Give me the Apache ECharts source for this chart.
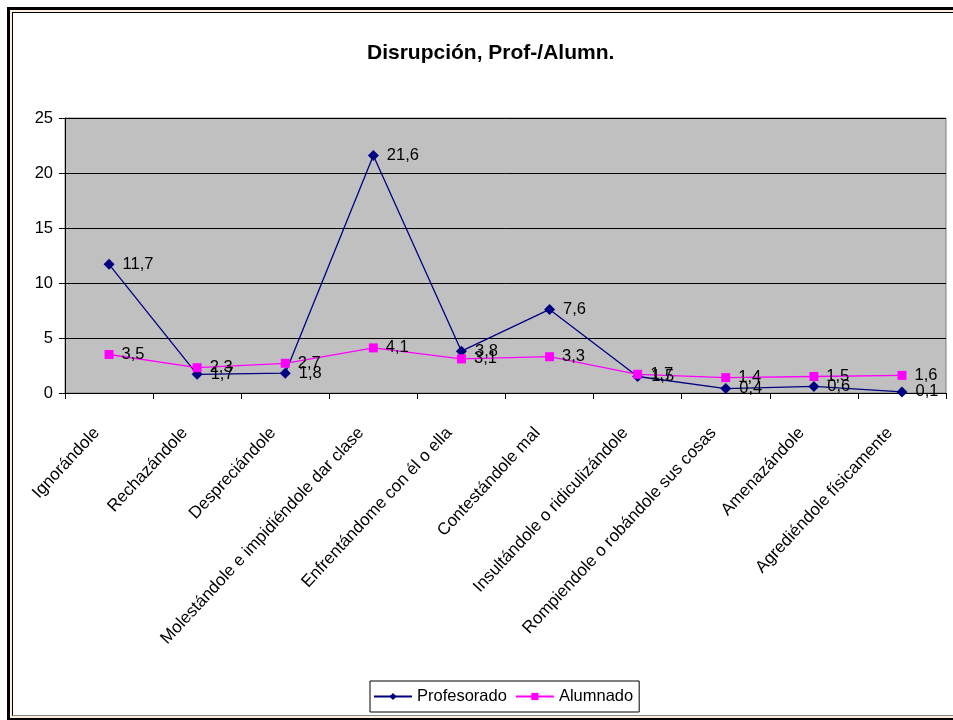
<!DOCTYPE html>
<html>
<head>
<meta charset="utf-8">
<script src="https://cdn.jsdelivr.net/npm/echarts@6/dist/echarts.min.js"></script>
<style>
	html, body { margin: 0; padding: 0; background: #fff; overflow: hidden; }
	#frame1 { position: absolute; left: 7px; top: 7px; width: 980px; height: 708px; border: 3px solid #000; border-right: none; }
	#frame2 { position: absolute; left: 0; top: 0; right: 0; bottom: 0; border: 2px solid #fbeedb; border-right: none; }
	#frame3 { position: absolute; left: 0; top: 0; right: 0; bottom: 0; border: 1px solid #000; border-right: none; border-bottom-color: #888; }
	#chart1 { position: absolute; left: 0; top: 0; width: 953px; height: 720px; }
</style>
</head>
<body>
<div id="frame1"><div id="frame2"><div id="frame3"></div></div></div>
<div id="chart1"></div>
<script>
var categories = ['Ignorándole', 'Rechazándole', 'Despreciándole', 'Molestándole e impidiéndole dar clase',
	'Enfrentándome con él o ella', 'Contestándole mal', 'Insultándole o ridiculizándole',
	'Rompiendole o robándole sus cosas', 'Amenazándole', 'Agrediéndole físicamente'];
var profesorado = [11.7, 1.7, 1.8, 21.6, 3.8, 7.6, 1.5, 0.4, 0.6, 0.1];
var alumnado = [3.5, 2.3, 2.7, 4.1, 3.1, 3.3, 1.7, 1.4, 1.5, 1.6];
var yTicks = [0, 5, 10, 15, 20, 25];

var chart_1 = echarts.init(document.getElementById('chart1'));

// etiquetas con coma decimal
function comma(params) {
	return params.value.toFixed(1).replace('.', ',');
}

var option = {
	animation: false,
	title: {
		text: 'Disrupción, Prof-/Alumn.',
		left: 362,
		top: 38,
		textStyle: {
			fontFamily: 'Liberation Sans',
			fontSize: 21,
			fontWeight: 'bold',
			color: '#000'
		}
	},
	legend: {
		bottom: 8,
		left: 370,
		itemWidth: 38,
		itemHeight: 9,
		itemGap: 8,
		padding: [7, 6, 7, 3],
		borderColor: '#000',
		borderWidth: 1,
		textStyle: {
			fontFamily: 'Liberation Sans',
			fontSize: 16.5,
			color: '#000'
		},
		data: ['Profesorado', 'Alumnado']
	},
	grid: {
		left: 65,
		right: 7,
		top: 118,
		bottom: 327,
		show: true,
		backgroundColor: '#c0c0c0',
		borderColor: '#808080',
		borderWidth: 1
	},
	xAxis: {
		type: 'category',
		data: categories,
		boundaryGap: true,
		axisLine: { lineStyle: { color: '#000', width: 1 } },
		axisTick: { show: true, length: 6, lineStyle: { color: '#000' } },
		axisLabel: {
			rotate: 47,
			interval: 0,
			margin: 24,
			padding: [0, 18, 0, 0],
			fontFamily: 'Liberation Sans',
			fontSize: 17,
			color: '#000'
		}
	},
	yAxis: {
		type: 'value',
		min: yTicks[0],
		max: yTicks[yTicks.length - 1],
		interval: 5,
		axisLine: { show: true, lineStyle: { color: '#000' } },
		axisTick: { show: true, length: 6, lineStyle: { color: '#000' } },
		axisLabel: {
			margin: 12,
			fontFamily: 'Liberation Sans',
			fontSize: 16.5,
			color: '#000'
		},
		splitLine: { show: true, lineStyle: { color: '#000', width: 1 } }
	},
	series: [{
			name: 'Profesorado',
			type: 'line',
			data: profesorado,
			symbol: 'diamond',
			symbolSize: 11,
			color: '#000080',
			lineStyle: { color: '#000080', width: 1.3 },
			itemStyle: { color: '#000080' },
			label: {
				show: true,
				position: 'right',
				distance: 8,
				formatter: comma,
				fontFamily: 'Liberation Sans',
				fontSize: 16.5,
				color: '#000'
			}
		},
		{
			name: 'Alumnado',
			type: 'line',
			data: alumnado,
			symbol: 'rect',
			symbolSize: 9,
			color: '#ff00ff',
			lineStyle: { color: '#ff00ff', width: 1.3 },
			itemStyle: { color: '#ff00ff' },
			label: {
				show: true,
				position: 'right',
				distance: 8,
				formatter: comma,
				fontFamily: 'Liberation Sans',
				fontSize: 16.5,
				color: '#000'
			}
		}
	]
};

chart_1.setOption(option);
</script>
</body>
</html>
